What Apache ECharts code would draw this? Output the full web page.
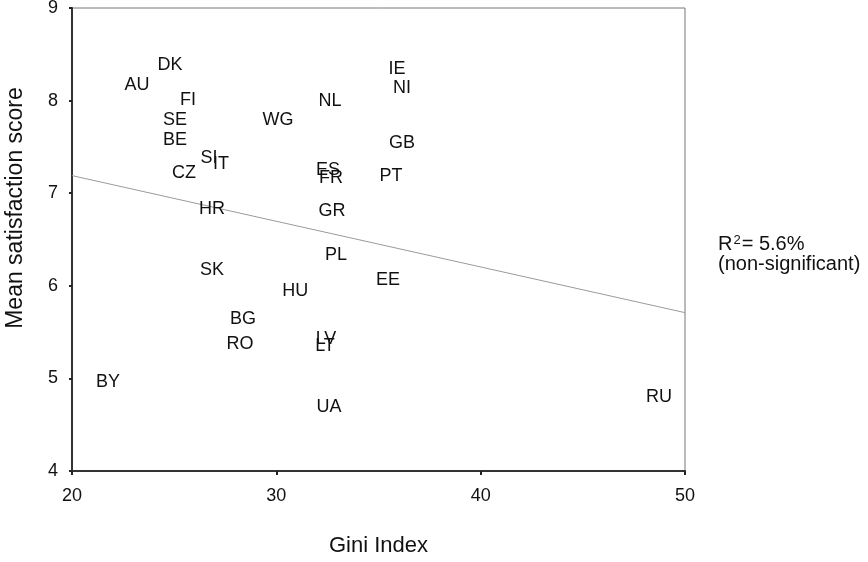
<!DOCTYPE html>
<html><head><meta charset="utf-8">
<script src="https://cdn.jsdelivr.net/npm/echarts@6/dist/echarts.min.js"></script>
<style>html,body{margin:0;padding:0;background:#fff}#c{width:868px;height:562px}</style>
</head><body><div id="c"></div>
<script>
var countries = ['DK','AU','FI','SE','BE','SI','IT','CZ','HR','WG','NL','IE','NI','GB','ES','FR','PT','GR','PL','EE','HU','SK','BG','RO','LV','LT','BY','UA','RU'];
var gini =      [24.80,23.18,25.68,25.04,25.04,26.71,27.29,25.48,26.85,30.08,32.63,35.91,36.15,36.15,32.53,32.68,35.61,32.73,32.92,35.47,30.92,26.85,28.37,28.22,32.43,32.38,21.76,32.58,48.73];
var satisfaction = [8.38,8.17,8.01,7.79,7.57,7.38,7.32,7.22,6.83,7.79,8.00,8.34,8.14,7.54,7.25,7.16,7.19,6.81,6.33,6.06,5.94,6.17,5.64,5.37,5.43,5.35,4.96,4.69,4.80];
var fitX = [20, 50];
var fitY = [7.19, 5.71];
var xTicks = [20, 30, 40, 50];
var yTicks = [4, 5, 6, 7, 8, 9];

var font = 'Liberation Sans, Arial, sans-serif';
var pts = countries.map(function(c, i){ return {name: c, value: [gini[i], satisfaction[i]]}; });
var chart = echarts.init(document.getElementById('c'), null, {renderer: 'canvas'});
chart.setOption({
  animation: false,
  grid: {left: 72, right: 183, top: 8, bottom: 91, containLabel: false, outerBoundsMode: 'none',
         show: true, borderColor: '#777', borderWidth: 1, backgroundColor: 'transparent'},
  xAxis: {
    type: 'value', min: 20, max: 50, interval: 10,
    name: 'Gini Index', nameLocation: 'middle', nameGap: 64,
    nameTextStyle: {fontFamily: font, fontSize: 22, color: '#111'},
    axisLine: {show: true, onZero: false, lineStyle: {color: '#333', width: 2}},
    axisTick: {show: true, length: 4, lineStyle: {color: '#222', width: 2}},
    axisLabel: {fontFamily: font, fontSize: 18, color: '#111', margin: 16,
      formatter: function(v){ return xTicks.indexOf(v) >= 0 ? String(v) : ''; }},
    splitLine: {show: false}
  },
  yAxis: {
    type: 'value', min: 4, max: 9, interval: 1,
    axisLine: {show: true, onZero: false, lineStyle: {color: '#333', width: 2}},
    axisTick: {show: true, length: 3, lineStyle: {color: '#222', width: 2}},
    axisLabel: {fontFamily: font, fontSize: 18, color: '#111', margin: 14,
      formatter: function(v){ return yTicks.indexOf(v) >= 0 ? String(v) : ''; }},
    splitLine: {show: false}
  },
  series: [
    {
      type: 'line', data: fitX.map(function(x, i){ return [x, fitY[i]]; }),
      symbol: 'none', lineStyle: {color: '#9a9a9a', width: 1}, silent: true, z: 1
    },
    {
      type: 'scatter', data: pts, symbolSize: 0, itemStyle: {color: '#111', opacity: 1},
      label: {show: true, position: 'inside', formatter: '{b}', fontFamily: font, fontSize: 18,
              color: '#111', opacity: 1, textBorderWidth: 0},
      z: 3
    }
  ],
  graphic: [
    {
      type: 'text', x: 16, y: 208, rotation: Math.PI / 2,
      style: {text: 'Mean satisfaction score', font: '23px ' + font, fill: '#111',
              align: 'center', verticalAlign: 'middle'}
    },
    {
      type: 'text', left: 718, top: 234,
      style: {
        text: '{r|R}{s|2}{r|= 5.6%}\n{r|(non-significant)}',
        rich: {
          r: {fontFamily: font, fontSize: 20, fill: '#111', lineHeight: 20},
          s: {fontFamily: font, fontSize: 13, fill: '#111', verticalAlign: 'top', lineHeight: 20, padding: [0, 1, 9, 1]}
        }
      }
    }
  ]
});
</script></body></html>
